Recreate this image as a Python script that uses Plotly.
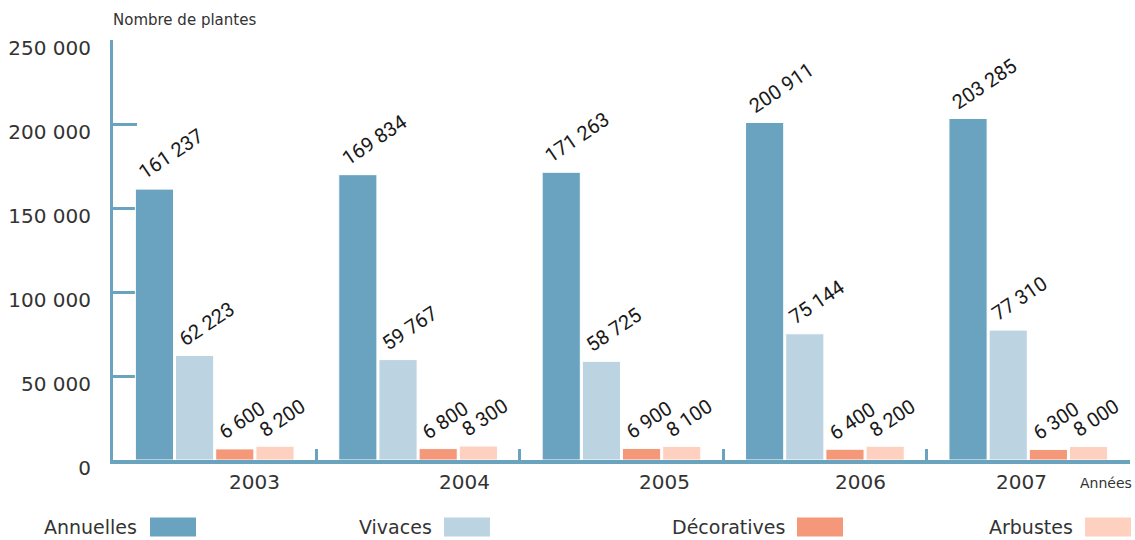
import plotly.graph_objects as go

years = ["2003", "2004", "2005", "2006", "2007"]
series_names = ["Annuelles", "Vivaces", "Décoratives", "Arbustes"]
annuelles = [161237, 169834, 171263, 200911, 203285]
vivaces = [62223, 59767, 58725, 75144, 77310]
decoratives = [6600, 6800, 6900, 6400, 6300]
arbustes = [8200, 8300, 8100, 8200, 8000]
y_ticks = [0, 50000, 100000, 150000, 200000, 250000]
y_tick_labels = ["0", "50 000", "100 000", "150 000", "200 000", "250 000"]

colors = ["#69a3bf", "#bcd4e1", "#f5987a", "#fdd0c0"]
axis_color = "#6aa3be"

W, H = 1135, 540
ML, MR, MT, MB = 113, 5, 40, 80
PW = W - ML - MR
PH = H - MT - MB
BARGAP, GROUPGAP = 0.21, 0.05


def fmt(v):
    return f"{v:,}".replace(",", " ")


def px_x(p):
    return (p - ML) / PW


def px_y(p):
    return (H - MB - p) / PH


fig = go.Figure()
all_values = [annuelles, vivaces, decoratives, arbustes]
for name, vals, col in zip(series_names, all_values, colors):
    fig.add_trace(go.Bar(
        x=years, y=vals, name=name,
        marker=dict(color=col, line=dict(color="white", width=1)),
        showlegend=False,
        hoverinfo="skip",
    ))

# value labels, rotated, anchored at the top-left of each bar
cat_w = PW / len(years)
slot = cat_w * (1 - BARGAP) / len(series_names)
bar_w = slot * (1 - GROUPGAP)
for k, vals in enumerate(all_values):
    centre = (k - (len(series_names) - 1) / 2) * slot
    for i, v in enumerate(vals):
        fig.add_annotation(
            x=i, y=v, xref="x", yref="y",
            xshift=centre - bar_w / 2 - 4, yshift=2,
            text=fmt(v), showarrow=False, textangle=-34,
            xanchor="left", yanchor="bottom",
            font=dict(family="Roboto", size=20, color="#1a1a1a"),
        )

fig.update_layout(
    width=W, height=H,
    margin=dict(l=ML, r=MR, t=MT, b=MB),
    paper_bgcolor="white", plot_bgcolor="white",
    barmode="group", bargap=BARGAP, bargroupgap=GROUPGAP,
    font=dict(family="DejaVu Sans", color="#333333"),
)

fig.update_xaxes(
    type="category", categoryorder="array", categoryarray=years,
    range=[-0.5, len(years) - 0.5],
    showgrid=False, zeroline=False,
    showline=True, linecolor=axis_color, linewidth=4,
    ticks="inside", tickson="boundaries", ticklen=11, tickwidth=3,
    tickcolor=axis_color, showticklabels=False, layer="below traces",
)
fig.update_yaxes(
    range=[0, 250000], showgrid=False, zeroline=False,
    showline=True, linecolor=axis_color, linewidth=3,
    ticks="inside", ticklen=24, tickwidth=3, tickcolor=axis_color,
    tickvals=y_ticks, ticktext=y_tick_labels,
    tickfont=dict(family="DejaVu Sans", size=20, color="#333333"),
    ticklabelstandoff=15, ticklabelshift=8,
    layer="below traces",
)

# year labels (offset as in the original layout)
year_shifts = [40, 46, 43, 36, -7]
for i, (yr, sh) in enumerate(zip(years, year_shifts)):
    fig.add_annotation(
        x=i, xref="x", y=px_y(482), yref="paper", xshift=sh,
        text=yr, showarrow=False, xanchor="center", yanchor="middle",
        font=dict(family="DejaVu Sans", size=20, color="#333333"),
    )

# axis titles
fig.add_annotation(
    x=px_x(111), y=px_y(20), xref="paper", yref="paper",
    text="Nombre de plantes", showarrow=False, xanchor="left", yanchor="middle",
    font=dict(family="DejaVu Sans", size=15, color="#333333"),
)
fig.add_annotation(
    x=px_x(1134), y=px_y(483), xref="paper", yref="paper",
    text="Années", showarrow=False, xanchor="right", yanchor="middle",
    font=dict(family="DejaVu Sans", size=14, color="#333333"),
)

# custom legend: label then swatch
legend_text_right = [139, 434, 787, 1075]
legend_swatch_left = [150, 444, 797, 1085]
sw_w, sw_h, leg_y = 46, 19, 527
for name, col, tr, sl in zip(series_names, colors, legend_text_right, legend_swatch_left):
    fig.add_annotation(
        x=px_x(tr), y=px_y(leg_y), xref="paper", yref="paper",
        text=name, showarrow=False, xanchor="right", yanchor="middle",
        font=dict(family="DejaVu Sans", size=19, color="#333333"),
    )
    fig.add_shape(
        type="rect", xref="paper", yref="paper",
        x0=px_x(sl), x1=px_x(sl + sw_w),
        y0=px_y(leg_y - sw_h / 2), y1=px_y(leg_y + sw_h / 2),
        fillcolor=col, line=dict(width=0),
    )

fig.write_html(
    "out.html",
    config={"displayModeBar": False},
    post_script="document.body.style.margin='0';document.body.style.overflow='hidden';",
)
